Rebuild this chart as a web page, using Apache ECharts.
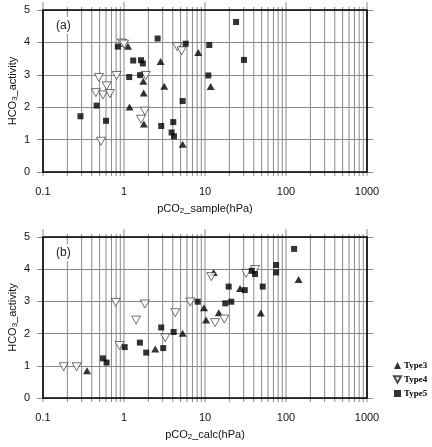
<!DOCTYPE html>
<html>
<head>
<meta charset="utf-8">
<script src="https://cdn.jsdelivr.net/npm/echarts@6/dist/echarts.min.js"></script>
<style>
  html, body { margin: 0; padding: 0; background: #fff; }
  #chart { width: 432px; height: 447px; }
</style>
</head>
<body>
<div id="chart"></div>
<script>
'use strict';

// ── Panel (a): HCO3 activity vs pCO2_sample ──────────────────────────────────
const aType3X = [1.12, 2.83, 1.73, 1.75, 3.14, 1.17, 1.76, 5.3, 8.26, 11.75];
const aType3Y = [3.88, 3.41, 2.80, 2.44, 2.65, 2.01, 1.48, 0.86, 3.69, 2.64];

const aType4X = [0.49, 0.61, 0.45, 0.55, 0.67, 0.81, 0.94, 1.00, 0.52, 1.86, 1.81, 1.62, 4.54, 5.15];
const aType4Y = [2.92, 2.66, 2.45, 2.38, 2.42, 2.98, 3.98, 3.95, 0.95, 2.98, 1.88, 1.63, 3.87, 3.74];

const aType5X = [0.29, 0.46, 0.60, 0.84, 1.30, 1.62, 1.71, 1.16, 1.58, 2.60, 2.88, 4.06, 3.87, 4.14, 5.30, 5.77, 11.3, 11.0, 24.2, 30.3];
const aType5Y = [1.72, 2.05, 1.58, 3.87, 3.44, 3.45, 3.35, 2.93, 2.99, 4.12, 1.42, 1.54, 1.22, 1.10, 2.19, 3.96, 3.92, 2.98, 4.63, 3.46];

// ── Panel (b): HCO3 activity vs pCO2_calc ────────────────────────────────────
const bType3X = [0.35, 2.43, 5.3, 9.72, 10.3, 12.8, 14.8, 27.1, 48.8, 143];
const bType3Y = [0.85, 1.52, 2.01, 2.80, 2.42, 3.90, 2.65, 3.40, 2.64, 3.68];

const bType4X = [0.18, 0.26, 0.79, 1.41, 1.81, 0.88, 3.23, 4.30, 6.58, 11.97, 13.3, 17.3, 32.2, 41.5];
const bType4Y = [0.97, 0.97, 2.97, 2.42, 2.92, 1.63, 1.87, 2.65, 2.98, 3.77, 2.34, 2.45, 3.87, 3.99];

const bType5X = [0.55, 0.61, 1.02, 1.57, 1.88, 2.88, 3.05, 4.10, 8.13, 19.6, 17.8, 21.1, 31.0, 37.8, 41.5, 51.6, 75.5, 75.5, 126];
const bType5Y = [1.23, 1.10, 1.58, 1.72, 1.41, 2.19, 1.55, 2.05, 2.99, 3.46, 2.94, 2.99, 3.35, 3.95, 3.85, 3.46, 4.13, 3.90, 4.63];

// ── Axis setup ───────────────────────────────────────────────────────────────
const xMin = 0.1, xMax = 1000;
const yMin = 0, yMax = 5;
const decades = [0.1, 1, 10, 100];
const panelLabels = ['(a)', '(b)'];
const xNames = ['pCO{s|2}_sample(hPa)', 'pCO{s|2}_calc(hPa)'];
const yName  = 'HCO{s|3}_activity';

const FONT  = 'Liberation Sans, Arial, sans-serif';
const GRAY  = '#8a8a8a';
const downTri = 'path://M0,0 L10,0 L5,9 Z';

// vertical log grid lines (1..9 per decade), flag = 1 on decades
const gridX = [];
decades.forEach(d => { for (let k = 1; k < 10; k++) gridX.push([d * k, 0, k === 1 ? 1 : 0]); });
gridX.push([xMax, 0, 1]);

const zip = (xs, ys) => xs.map((x, i) => [x, ys[i]]);

const grids = [
  { left: 43, top: 10,  width: 324, height: 162, outerBoundsMode: 'none' },
  { left: 43, top: 237, width: 324, height: 161, outerBoundsMode: 'none' },
];

const richSub = { s: { fontSize: 8, fontFamily: FONT, color: '#111', padding: [4, 0, 0, 0], verticalAlign: 'bottom' } };

// ── Build option ─────────────────────────────────────────────────────────────
const xAxes = [], yAxes = [], series = [], titles = [];

grids.forEach((g, i) => {
  xAxes.push({
    type: 'log', logBase: 10, gridIndex: i, min: xMin, max: xMax,
    axisLine: { show: false }, axisTick: { show: false }, splitLine: { show: false },
    axisLabel: {
      color: '#111', fontSize: 11, fontFamily: FONT, margin: 14,
      showMinLabel: true, showMaxLabel: true,
      formatter: v => String(Number(Number(v).toPrecision(3))),
    },
    name: xNames[i], nameLocation: 'middle', nameGap: 31, nameMoveOverlap: false,
    nameTextStyle: { color: '#111', fontSize: 11, fontFamily: FONT, rich: richSub },
  });

  yAxes.push({
    type: 'value', gridIndex: i, position: 'left', min: yMin, max: yMax, interval: 1,
    axisLine: { show: false },
    axisTick: { show: true, length: 6, lineStyle: { color: GRAY } },
    splitLine: { show: true, lineStyle: { color: GRAY, width: 1 } },
    axisLabel: { color: '#111', fontSize: 11, fontFamily: FONT, margin: 13 },
    name: yName, nameLocation: 'middle', nameGap: 24, nameRotate: 90, nameMoveOverlap: false,
    nameTextStyle: { color: '#111', fontSize: 11, fontFamily: FONT, rich: richSub },
  });
  yAxes.push({
    type: 'value', gridIndex: i, position: 'right', min: yMin, max: yMax, interval: 1,
    axisLine: { show: false },
    axisTick: { show: true, length: 6, lineStyle: { color: GRAY } },
    splitLine: { show: false },
    axisLabel: { show: false },
  });

  const yIdx = i * 2;

  // log grid lines, drawn through the axes
  series.push({
    type: 'custom', xAxisIndex: i, yAxisIndex: yIdx, z: 1, silent: true,
    encode: { x: 0, y: 1 },
    data: gridX,
    renderItem: (params, api) => {
      const x = api.value(0);
      const major = api.value(2);
      const p0 = api.coord([x, yMin]);
      const p1 = api.coord([x, yMax]);
      return {
        type: 'line',
        shape: { x1: p0[0], y1: p0[1] + 4, x2: p1[0], y2: p1[1] - (major ? 8 : 3) },
        style: { stroke: GRAY, lineWidth: 1 },
      };
    },
  });

  // black frame
  series.push({
    type: 'custom', xAxisIndex: i, yAxisIndex: yIdx, z: 2, silent: true,
    encode: { x: 0, y: 1 },
    data: [[xMin, yMin]],
    renderItem: (params, api) => {
      const p0 = api.coord([xMin, yMin]);
      const p1 = api.coord([xMax, yMax]);
      return {
        type: 'rect',
        shape: { x: p0[0], y: p1[1], width: p1[0] - p0[0], height: p0[1] - p1[1] },
        style: { fill: 'none', stroke: '#000', lineWidth: 1.6 },
      };
    },
  });

  titles.push({
    text: panelLabels[i], left: 54, top: i === 0 ? 17 : 244, padding: [3, 2, 2, 2],
    backgroundColor: '#fff',
    textStyle: { fontSize: 12, fontWeight: 'normal', color: '#222', fontFamily: FONT },
  });
});

const panelData = [
  [zip(aType3X, aType3Y), zip(aType4X, aType4Y), zip(aType5X, aType5Y)],
  [zip(bType3X, bType3Y), zip(bType4X, bType4Y), zip(bType5X, bType5Y)],
];

panelData.forEach((sets, i) => {
  const base = { type: 'scatter', xAxisIndex: i, yAxisIndex: i * 2, z: 3 };
  series.push(Object.assign({}, base, {
    name: 'Type3', symbol: 'triangle', symbolSize: [8, 7],
    itemStyle: { color: '#000' }, data: sets[0],
  }));
  series.push(Object.assign({}, base, {
    name: 'Type4', symbol: downTri, symbolSize: [9, 8],
    itemStyle: { color: '#fff', borderColor: '#222', borderWidth: 0.8 }, data: sets[1],
  }));
  series.push(Object.assign({}, base, {
    name: 'Type5', symbol: 'rect', symbolSize: 6,
    itemStyle: { color: '#000' }, data: sets[2],
  }));
});

const chart = echarts.init(document.getElementById('chart'), null, { renderer: 'canvas' });
chart.setOption({
  animation: false,
  backgroundColor: '#fff',
  title: titles,
  grid: grids,
  xAxis: xAxes,
  yAxis: yAxes,
  legend: {
    data: ['Type3', 'Type4', 'Type5'],
    orient: 'vertical', left: 393, top: 361, padding: 0,
    itemWidth: 7, itemHeight: 7, itemGap: 5,
    textStyle: { fontFamily: 'Liberation Serif, serif', fontWeight: 'bold', fontSize: 9, color: '#000', padding: [0, 0, 0, -2] },
  },
  series: series,
});
</script>
</body>
</html>
